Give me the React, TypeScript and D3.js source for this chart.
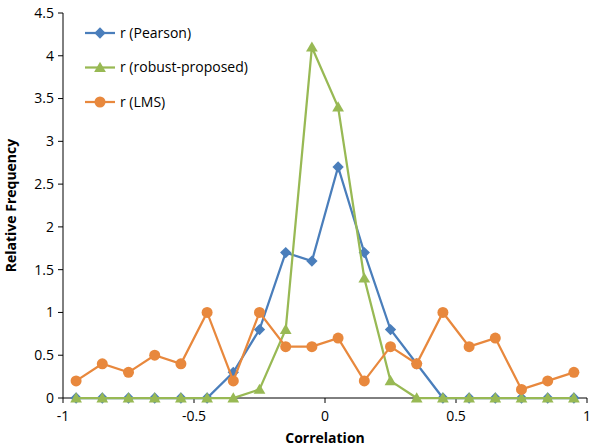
import React from 'react';
import * as d3 from 'd3';

const bins = [-0.95, -0.85, -0.75, -0.65, -0.55, -0.45, -0.35, -0.25, -0.15, -0.05,
  0.05, 0.15, 0.25, 0.35, 0.45, 0.55, 0.65, 0.75, 0.85, 0.95];
const pearson = [0, 0, 0, 0, 0, 0, 0.3, 0.8, 1.7, 1.6, 2.7, 1.7, 0.8, 0.4, 0, 0, 0, 0, 0, 0];
const robust = [0, 0, 0, 0, 0, 0, 0, 0.1, 0.8, 4.1, 3.4, 1.4, 0.2, 0, 0, 0, 0, 0, 0, 0];
const lms = [0.2, 0.4, 0.3, 0.5, 0.4, 1.0, 0.2, 1.0, 0.6, 0.6, 0.7, 0.2, 0.6, 0.4, 1.0, 0.6, 0.7, 0.1, 0.2, 0.3];
const xTicks = [-1, -0.5, 0, 0.5, 1];
const yTicks = [0, 0.5, 1, 1.5, 2, 2.5, 3, 3.5, 4, 4.5];

const seriesList = [
  { name: 'r (Pearson)', values: pearson, color: '#4A7EBB', marker: 'diamond' },
  { name: 'r (robust-proposed)', values: robust, color: '#98B954', marker: 'triangle' },
  { name: 'r (LMS)', values: lms, color: '#E8883D', marker: 'circle' },
];

const width = 592;
const height = 447;
const margin = { top: 13, right: 5, bottom: 49, left: 63 };
const font = 'Open Sans, Liberation Sans, sans-serif';

const Marker = ({ type, x, y, color }: { type: string; x: number; y: number; color: string }) => {
  if (type === 'circle') return <circle cx={x} cy={y} r={5.5} fill={color} />;
  if (type === 'triangle') {
    const p = d3.symbol(d3.symbolTriangle, 60)() as string;
    return <path d={p} transform={`translate(${x},${y + 1})`} fill={color} />;
  }
  return <rect x={-4} y={-4} width={8} height={8} fill={color} transform={`translate(${x},${y}) rotate(45)`} />;
};

export default function App() {
  const innerW = width - margin.left - margin.right;
  const innerH = height - margin.top - margin.bottom;
  const x = d3.scaleLinear().domain([-1, 1]).range([0, innerW]);
  const y = d3.scaleLinear().domain([0, 4.5]).range([innerH, 0]);
  const line = d3.line<number>().x((_, i) => x(bins[i])).y(d => y(d));

  return (
    <svg width={width} height={height} style={{ position: 'absolute', left: 0, top: 0 }} fontFamily={font}>
      <rect width={width} height={height} fill="white" />
      <g transform={`translate(${margin.left},${margin.top})`}>
        <line x1={0} x2={0} y1={0} y2={innerH} stroke="black" />
        <line x1={0} x2={innerW} y1={innerH} y2={innerH} stroke="black" />
        {yTicks.map(t => (
          <g key={t} transform={`translate(0,${y(t)})`}>
            <line x1={-5} x2={0} stroke="black" />
            <text x={-9} dy="0.35em" textAnchor="end" fontSize={14}>{t}</text>
          </g>
        ))}
        {xTicks.map(t => (
          <g key={t} transform={`translate(${x(t)},${innerH})`}>
            <line y1={0} y2={5} stroke="black" />
            <text y={23} textAnchor="middle" fontSize={14}>{t}</text>
          </g>
        ))}
        {seriesList.map(s => (
          <g key={s.name}>
            <path d={line(s.values) as string} fill="none" stroke={s.color} strokeWidth={2.25} />
            {s.values.map((v, i) => (
              <Marker key={i} type={s.marker} x={x(bins[i])} y={y(v)} color={s.color} />
            ))}
          </g>
        ))}
        <text x={innerW / 2} y={innerH + 45} textAnchor="middle" fontSize={14} fontWeight="bold">Correlation</text>
        <text transform={`translate(${-47},${innerH / 2}) rotate(-90)`} textAnchor="middle" fontSize={14} fontWeight="bold">Relative Frequency</text>
        {seriesList.map((s, i) => (
          <g key={s.name} transform={`translate(22,${20 + i * 34.5})`}>
            <line x1={0} x2={30} stroke={s.color} strokeWidth={2.25} />
            <Marker type={s.marker} x={15} y={0} color={s.color} />
            <text x={35} dy="0.35em" fontSize={14}>{s.name}</text>
          </g>
        ))}
      </g>
    </svg>
  );
}
